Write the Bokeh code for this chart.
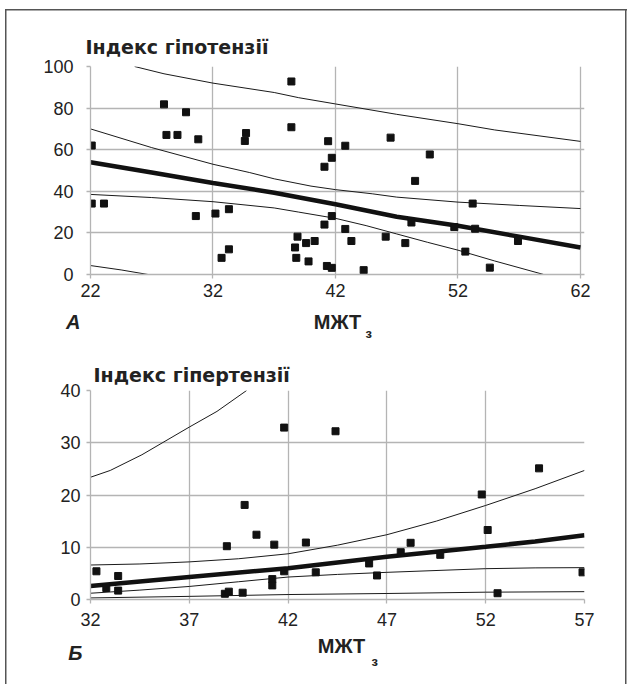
from bokeh.plotting import figure
from bokeh.models import Range1d, FixedTicker, Label, Title
from bokeh.layouts import column
from bokeh.embed import file_html
from bokeh.resources import INLINE

# ---------------- Panel A data ----------------
a_x = [22.1, 22.1, 23.1, 28.0, 28.2, 29.1, 29.8, 30.8, 30.6, 32.2, 32.7, 33.3, 33.3,
       34.6, 34.7, 38.4, 38.4, 38.9, 38.7, 38.8, 39.6, 39.8, 40.3, 41.1, 41.1, 41.4,
       41.3, 41.7, 41.7, 41.7, 42.8, 42.8, 43.3, 44.3, 46.1, 46.5, 47.7, 48.2, 48.5,
       49.7, 51.7, 52.6, 53.2, 53.4, 54.6, 56.9]
a_y = [62.0, 34.1, 34.1, 81.8, 67.1, 67.1, 78.0, 65.0, 28.1, 29.3, 8.0, 12.1, 31.4,
       64.2, 68.0, 92.8, 70.8, 18.2, 13.0, 8.0, 15.1, 6.3, 16.1, 51.8, 24.0, 64.1,
       4.1, 56.1, 28.1, 3.2, 61.9, 21.9, 16.1, 2.1, 18.2, 65.8, 15.1, 25.0, 45.0,
       57.7, 22.8, 11.0, 34.1, 22.0, 3.3, 16.1]
a_fit_x = [22, 27, 32, 37, 42, 47, 52, 57, 62]
a_fit_y = [54.0, 49.0, 44.0, 39.3, 33.8, 27.8, 23.4, 18.2, 13.0]
a_ci_up_x = [22, 27, 32, 35, 37, 40, 42, 45, 47, 52, 57, 62]
a_ci_up_y = [70.0, 61.0, 53.0, 49.0, 46.0, 42.5, 40.8, 38.8, 37.2, 34.8, 33.2, 31.7]
a_ci_lo_x = [22, 27, 32, 37, 39, 42, 44.5, 47, 49.5, 52, 55, 59]
a_ci_lo_y = [38.5, 37.0, 35.0, 32.0, 30.0, 27.0, 23.5, 19.5, 15.5, 11.7, 6.5, 0.0]
a_pi_up_x = [25.6, 28, 32, 37, 39, 42, 47, 52, 55, 62]
a_pi_up_y = [100.0, 96.5, 92.0, 87.5, 85.0, 82.0, 77.0, 72.5, 69.5, 64.0]
a_pi_lo_x = [22, 24.5, 26.7]
a_pi_lo_y = [4.3, 2.2, 0.0]
a_xticks = [22, 32, 42, 52, 62]
a_yticks = [0, 20, 40, 60, 80, 100]

# ---------------- Panel B data ----------------
b_x = [32.3, 32.8, 33.4, 33.4, 38.9, 38.8, 39.0, 39.7, 39.8, 40.4, 41.3, 41.2, 41.2,
       41.8, 41.8, 42.9, 43.4, 44.4, 46.1, 46.5, 47.7, 48.2, 49.7, 51.8, 52.1, 52.6,
       54.7, 56.9]
b_y = [5.4, 2.2, 4.5, 1.7, 10.2, 1.1, 1.5, 1.3, 18.1, 12.4, 10.5, 3.9, 2.7,
       32.9, 5.4, 10.9, 5.2, 32.2, 6.9, 4.6, 9.05, 10.85, 8.55, 20.1, 13.3, 1.2,
       25.1, 5.2]
b_fit_x = [32, 37, 42, 47, 52, 54.5, 57]
b_fit_y = [2.6, 4.3, 6.0, 8.2, 10.1, 11.1, 12.3]
b_ci_up_x = [32, 34.5, 37, 39.5, 42, 44.5, 47, 49.5, 52, 54.5, 57]
b_ci_up_y = [6.6, 6.8, 7.2, 7.8, 8.75, 10.4, 12.4, 15.0, 18.0, 21.2, 24.7]
b_ci_lo_x = [32, 34.5, 37, 39.5, 42, 44.5, 47, 52, 54.5, 57]
b_ci_lo_y = [1.2, 1.8, 2.5, 3.4, 4.3, 4.8, 5.2, 5.9, 6.05, 6.1]
b_pi_up_x = [32, 33, 34.6, 37, 38.4, 39.9]
b_pi_up_y = [23.4, 24.7, 27.7, 33.0, 36.0, 40.0]
b_pi_lo_x = [32, 37, 42, 47, 52, 57]
b_pi_lo_y = [0.3, 0.6, 0.95, 1.15, 1.4, 1.5]
b_xticks = [32, 37, 42, 47, 52, 57]
b_yticks = [0, 10, 20, 30, 40]

title_a = "Індекс гіпотензії"
title_b = "Індекс гіпертензії"
xlab = "МЖТ"
xlab_sub = "з"
tag_a = "А"
tag_b = "Б"

FONT = "Liberation Sans"
TITLE_FONT = "DejaVu Sans"
GRID = "#b4b4b4"
INK = "#1a1a1a"
TXT = "#222222"
W = 627
LEFT, RIGHT = 90, 43          # common frame borders (plots in a column share them)


def make_panel(height, top, bottom, xr, yr, xt, yt, xstand, ystand,
               title, toffset, tstandoff):
    t = Title(text=title, align="left", offset=toffset, standoff=tstandoff,
              text_font=TITLE_FONT, text_font_size="19px", text_font_style="bold",
              text_color=TXT)
    p = figure(width=W, height=height, output_backend="svg", title=t,
               toolbar_location=None, x_range=Range1d(*xr), y_range=Range1d(*yr),
               min_border_left=LEFT, min_border_right=RIGHT,
               min_border_top=top, min_border_bottom=bottom)
    p.border_fill_color = None
    p.outline_line_color = None
    p.background_fill_color = "white"
    p.xaxis.ticker = FixedTicker(ticks=xt)
    p.yaxis.ticker = FixedTicker(ticks=yt)
    for ax, st in ((p.xaxis, xstand), (p.yaxis, ystand)):
        ax.axis_line_color = GRID
        ax.axis_line_width = 1.3
        ax.major_tick_line_color = GRID
        ax.major_tick_line_width = 1.3
        ax.major_tick_out = 4
        ax.major_tick_in = 0
        ax.minor_tick_line_color = None
        ax.major_label_text_font = FONT
        ax.major_label_text_font_size = "18px"
        ax.major_label_text_color = TXT
        ax.major_label_standoff = st
    p.grid.grid_line_color = GRID
    p.grid.grid_line_width = 1.3
    return p


def make_strip(y0, y1, tag, tag_y, tag_standoff):
    # label strip under a panel; coordinates are page pixels
    s = figure(width=W, height=y1 - y0, output_backend="svg", toolbar_location=None,
               x_range=Range1d(LEFT, W - RIGHT), y_range=Range1d(y1, y0),
               min_border_left=LEFT, min_border_right=RIGHT,
               min_border_top=0, min_border_bottom=0)
    s.xaxis.visible = False
    s.grid.visible = False
    s.outline_line_color = None
    s.border_fill_color = None
    s.background_fill_color = None
    ax = s.yaxis[0]
    ax.ticker = FixedTicker(ticks=[tag_y])
    ax.major_label_overrides = {tag_y: tag}
    ax.axis_line_color = None
    ax.major_tick_line_color = None
    ax.minor_tick_line_color = None
    ax.major_tick_out = 0
    ax.major_tick_in = 0
    ax.major_label_standoff = tag_standoff
    ax.major_label_text_font = FONT
    ax.major_label_text_font_size = "20px"
    ax.major_label_text_font_style = "bold italic"
    ax.major_label_text_color = TXT
    return s


def txt(x, y, text, size, style, align="left"):
    return Label(x=x, y=y, text=text, text_font=FONT, text_font_size=size,
                 text_font_style=style, text_color=TXT, text_align=align,
                 text_baseline="middle")


# ---------------- Panel A ----------------
pa = make_panel(306, 66, 32, (22, 62.33), (0, 100), a_xticks, a_yticks, 5, 13,
                title_a, -5, 17)
for xs, ys in ((a_pi_up_x, a_pi_up_y), (a_pi_lo_x, a_pi_lo_y),
               (a_ci_up_x, a_ci_up_y), (a_ci_lo_x, a_ci_lo_y)):
    pa.line(xs, ys, line_color=INK, line_width=1)
pa.line(a_fit_x, a_fit_y, line_color="#111111", line_width=4.5)
pa.scatter(a_x, a_y, marker="square", size=7, color="#111111")

sa = make_strip(306, 340, tag_a, 321, 10)
sa.add_layout(txt(337, 321.5, xlab, "20px", "bold", "center"))
sa.add_layout(txt(365, 332.5, xlab_sub, "13px", "bold"))

# ---------------- Panel B ----------------
pb = make_panel(294, 50, 35, (32, 57), (0, 40), b_xticks, b_yticks, 9, 6,
                title_b, 3, 9)
for xs, ys in ((b_pi_up_x, b_pi_up_y), (b_pi_lo_x, b_pi_lo_y),
               (b_ci_up_x, b_ci_up_y), (b_ci_lo_x, b_ci_lo_y)):
    pb.line(xs, ys, line_color=INK, line_width=1)
pb.line(b_fit_x, b_fit_y, line_color="#111111", line_width=4.5)
pb.scatter(b_x, b_y, marker="square", size=7, color="#111111")

sb = make_strip(634, 684, tag_b, 652, 8)
sb.add_layout(txt(341, 645, xlab, "20px", "bold", "center"))
sb.add_layout(txt(371, 660.5, xlab_sub, "13px", "bold"))

frame_css = ("linear-gradient(#555555,#555555) 5px 9px / 1.5px 100% no-repeat, "
             "linear-gradient(#555555,#555555) 5px 9px / 100% 1.5px no-repeat, "
             "linear-gradient(#555555,#555555) 625px 9px / 1.5px 100% no-repeat")
layout = column(pa, sa, pb, sb, spacing=0, styles={"background": frame_css})

open("out.html", "w").write(file_html(layout, INLINE))
